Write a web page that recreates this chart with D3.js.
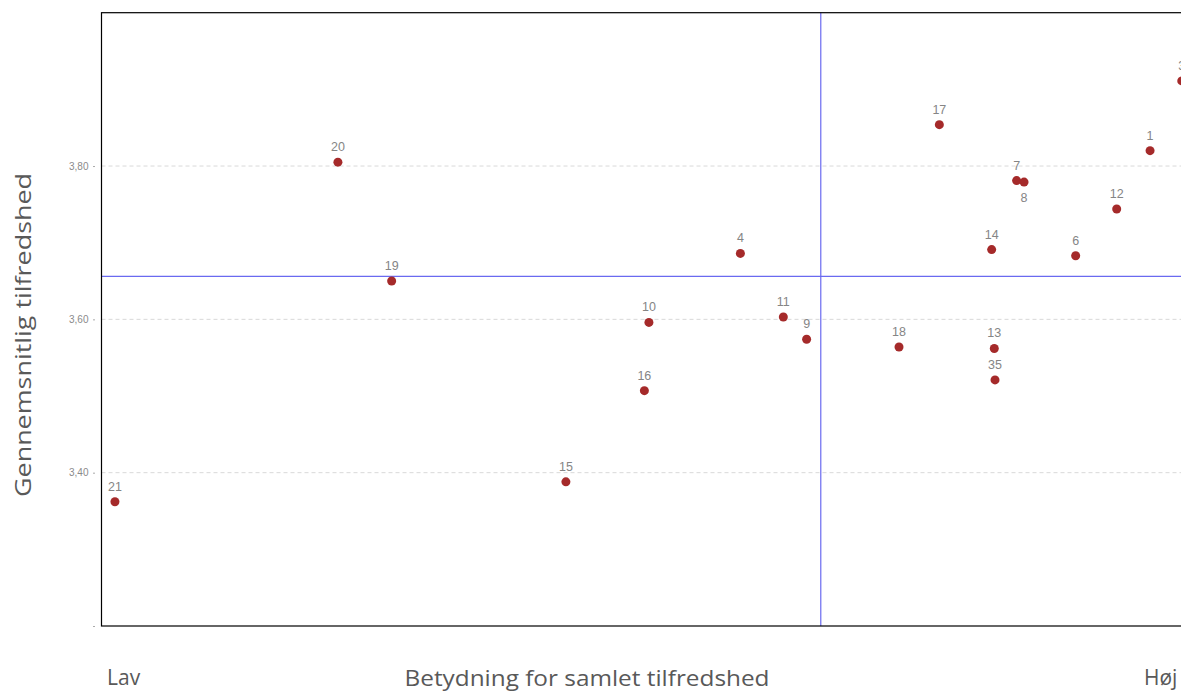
<!DOCTYPE html>
<html>
<head>
<meta charset="utf-8">
<script src="https://cdn.jsdelivr.net/npm/d3@7"></script>
<style>
  html, body { margin: 0; padding: 0; background: #fff; overflow: hidden; }
  svg { display: block; }
</style>
</head>
<body>
<svg id="chart" width="1181" height="694"></svg>
<script>
// items: id, importance (x), average satisfaction (y)
const ids = ['21', '20', '19', '15', '16', '10', '4', '11', '9', '18', '17', '13', '35', '14', '7', '8', '6', '12', '1', '3'];
const importance = [0.2056, 0.2985, 0.3209, 0.3935, 0.4262, 0.4281, 0.4662, 0.4841, 0.4938, 0.5323, 0.5491, 0.5720, 0.5723, 0.5709, 0.5813, 0.5844, 0.6059, 0.6230, 0.6369, 0.6501];
const satisfaction = [3.362, 3.805, 3.650, 3.388, 3.507, 3.596, 3.686, 3.603, 3.574, 3.564, 3.854, 3.562, 3.521, 3.691, 3.781, 3.779, 3.683, 3.744, 3.820, 3.911];

const yTicks = [3.2, 3.4, 3.6, 3.8];
const yTickLabels = ['', '3,40', '3,60', '3,80'];
const xDomain = [0.2, 0.8];
const yDomain = [3.2, 4.0];
const meanImportance = 0.4997;
const meanSatisfaction = 3.656;

const POINT = '#a52a2a';
const QUAD = '#6a6af0';
const TXT = '#595959';
const belowLabel = new Set(['8']);

const plot = { left: 101.5, top: 12.7, right: 1541.5, bottom: 626 };

const svg = d3.select('#chart');
const x = d3.scaleLinear().domain(xDomain).range([plot.left, plot.right]);
const y = d3.scaleLinear().domain(yDomain).range([plot.bottom, plot.top]);

const points = ids.map((id, i) => ({ id, x: importance[i], y: satisfaction[i] }));

// grid
svg.append('g')
  .selectAll('line')
  .data(yTicks.filter(t => t > yDomain[0]))
  .join('line')
  .attr('x1', plot.left).attr('x2', plot.right)
  .attr('y1', d => y(d)).attr('y2', d => y(d))
  .attr('stroke', '#d9d9d9')
  .attr('stroke-dasharray', '4,3');

// y axis ticks
svg.append('g')
  .attr('transform', `translate(${plot.left - 7},0)`)
  .call(d3.axisLeft(y).tickValues(yTicks).tickSize(1).tickPadding(5)
    .tickFormat((d, i) => yTickLabels[i]))
  .call(a => a.select('.domain').remove())
  .call(a => a.selectAll('line').attr('stroke', '#555'))
  .call(a => a.selectAll('text')
    .attr('fill', '#8a8a8a')
    .attr('font-family', 'Liberation Sans, Arial, sans-serif')
    .attr('font-size', 10));

// quadrant lines
svg.append('line')
  .attr('x1', plot.left).attr('x2', plot.right)
  .attr('y1', y(meanSatisfaction)).attr('y2', y(meanSatisfaction))
  .attr('stroke', QUAD).attr('stroke-width', 1.2);
svg.append('line')
  .attr('x1', x(meanImportance)).attr('x2', x(meanImportance))
  .attr('y1', plot.top).attr('y2', plot.bottom)
  .attr('stroke', QUAD).attr('stroke-width', 1.2);

// frame
svg.append('rect')
  .attr('x', plot.left).attr('y', plot.top)
  .attr('width', plot.right - plot.left)
  .attr('height', plot.bottom - plot.top)
  .attr('fill', 'none')
  .attr('stroke', '#000')
  .attr('stroke-width', 1.2);

// points
svg.append('g')
  .selectAll('circle')
  .data(points)
  .join('circle')
  .attr('cx', d => x(d.x))
  .attr('cy', d => y(d.y))
  .attr('r', 4.5)
  .attr('fill', POINT);

svg.append('g')
  .selectAll('text')
  .data(points)
  .join('text')
  .attr('x', d => x(d.x))
  .attr('y', d => y(d.y) + (belowLabel.has(d.id) ? 20 : -11))
  .attr('text-anchor', 'middle')
  .attr('fill', '#858585')
  .attr('font-family', 'Liberation Sans, Arial, sans-serif')
  .attr('font-size', 12.5)
  .text(d => d.id);

// axis titles
const titleFont = 'Open Sans, Noto Sans, sans-serif';
svg.append('text')
  .attr('transform', `translate(31,335) rotate(-90)`)
  .attr('text-anchor', 'middle')
  .attr('fill', TXT)
  .attr('font-family', titleFont)
  .attr('font-size', 22.5)
  .attr('textLength', 324)
  .attr('lengthAdjust', 'spacingAndGlyphs')
  .text('Gennemsnitlig tilfredshed');

svg.append('text')
  .attr('x', 587).attr('y', 686)
  .attr('text-anchor', 'middle')
  .attr('fill', TXT)
  .attr('font-family', titleFont)
  .attr('font-size', 22.5)
  .attr('textLength', 365)
  .attr('lengthAdjust', 'spacingAndGlyphs')
  .text('Betydning for samlet tilfredshed');

svg.append('text')
  .attr('x', 107).attr('y', 685)
  .attr('fill', TXT)
  .attr('font-family', titleFont)
  .attr('font-size', 21)
  .text('Lav');

svg.append('text')
  .attr('x', 1144).attr('y', 685)
  .attr('fill', TXT)
  .attr('font-family', titleFont)
  .attr('font-size', 21)
  .text('Høj');
</script>
</body>
</html>
